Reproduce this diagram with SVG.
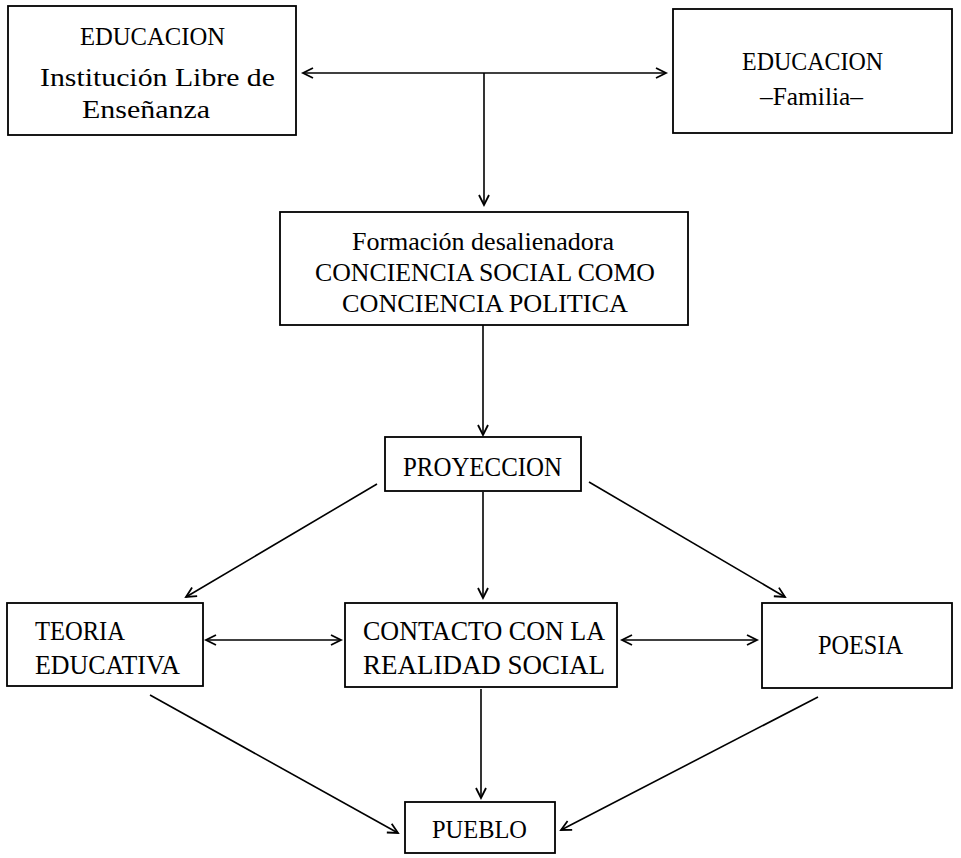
<svg xmlns="http://www.w3.org/2000/svg" width="961" height="858" viewBox="0 0 961 858">
<defs>
<marker id="ah" markerUnits="userSpaceOnUse" markerWidth="14" markerHeight="14" refX="11" refY="6" orient="auto-start-reverse" viewBox="0 0 14 12">
<path d="M1,1 L11,6 L1,11" fill="none" stroke="#000" stroke-width="1.8"/>
</marker>
</defs>
<style>
.box{fill:#fff;stroke:#000;stroke-width:1.8}
.t{font-family:"Liberation Serif","DejaVu Serif",serif;fill:#000}
.ln{stroke:#000;stroke-width:1.6;fill:none}
</style>
<rect width="961" height="858" fill="#fff"/>
<g id="edu-ile">
<rect class="box" x="8" y="6" width="288" height="129"/>
<text class="t" x="80" y="45" font-size="25" textLength="145" lengthAdjust="spacingAndGlyphs">EDUCACION</text>
<text class="t" x="40" y="86" font-size="25" textLength="235" lengthAdjust="spacingAndGlyphs">Institución Libre de</text>
<text class="t" x="82" y="118" font-size="25" textLength="128" lengthAdjust="spacingAndGlyphs">Enseñanza</text>
</g>
<g id="edu-familia">
<rect class="box" x="673" y="9" width="279" height="124"/>
<text class="t" x="742" y="70" font-size="25" textLength="141" lengthAdjust="spacingAndGlyphs">EDUCACION</text>
<text class="t" x="760" y="105" font-size="25" textLength="103" lengthAdjust="spacingAndGlyphs">–Familia–</text>
</g>
<g id="formacion">
<rect class="box" x="280" y="212" width="408" height="113"/>
<text class="t" x="352" y="250" font-size="26" textLength="262" lengthAdjust="spacingAndGlyphs">Formación desalienadora</text>
<text class="t" x="315" y="281" font-size="26" textLength="340" lengthAdjust="spacingAndGlyphs">CONCIENCIA SOCIAL COMO</text>
<text class="t" x="342" y="312" font-size="26" textLength="286" lengthAdjust="spacingAndGlyphs">CONCIENCIA POLITICA</text>
</g>
<g id="proyeccion">
<rect class="box" x="385" y="437" width="196" height="54"/>
<text class="t" x="403" y="476" font-size="27" textLength="159" lengthAdjust="spacingAndGlyphs">PROYECCION</text>
</g>
<g id="teoria">
<rect class="box" x="7" y="603" width="196" height="83"/>
<text class="t" x="35" y="640" font-size="28" textLength="90" lengthAdjust="spacingAndGlyphs">TEORIA</text>
<text class="t" x="35" y="674" font-size="28" textLength="145" lengthAdjust="spacingAndGlyphs">EDUCATIVA</text>
</g>
<g id="contacto">
<rect class="box" x="345" y="603" width="272" height="84"/>
<text class="t" x="363" y="640" font-size="27" textLength="242" lengthAdjust="spacingAndGlyphs">CONTACTO CON LA</text>
<text class="t" x="363" y="674" font-size="27" textLength="242" lengthAdjust="spacingAndGlyphs">REALIDAD SOCIAL</text>
</g>
<g id="poesia">
<rect class="box" x="762" y="603" width="190" height="85"/>
<text class="t" x="818" y="654" font-size="28" textLength="85" lengthAdjust="spacingAndGlyphs">POESIA</text>
</g>
<g id="pueblo">
<rect class="box" x="405" y="802" width="150" height="51"/>
<text class="t" x="432" y="838" font-size="26" textLength="95" lengthAdjust="spacingAndGlyphs">PUEBLO</text>
</g>
<g id="connectors">
<line class="ln" x1="303" y1="73" x2="666" y2="73" marker-start="url(#ah)" marker-end="url(#ah)"/>
<line class="ln" x1="484" y1="73" x2="484" y2="205" marker-end="url(#ah)"/>
<line class="ln" x1="483" y1="325" x2="483" y2="435" marker-end="url(#ah)"/>
<line class="ln" x1="377" y1="484" x2="186" y2="597" marker-end="url(#ah)"/>
<line class="ln" x1="483" y1="492" x2="483" y2="598" marker-end="url(#ah)"/>
<line class="ln" x1="589" y1="482" x2="785" y2="597" marker-end="url(#ah)"/>
<line class="ln" x1="206" y1="640" x2="341" y2="640" marker-start="url(#ah)" marker-end="url(#ah)"/>
<line class="ln" x1="622" y1="640" x2="757" y2="640" marker-start="url(#ah)" marker-end="url(#ah)"/>
<line class="ln" x1="150" y1="695" x2="398" y2="833" marker-end="url(#ah)"/>
<line class="ln" x1="481" y1="689" x2="481" y2="798" marker-end="url(#ah)"/>
<line class="ln" x1="818" y1="697" x2="561" y2="830" marker-end="url(#ah)"/>
</g>
</svg>
